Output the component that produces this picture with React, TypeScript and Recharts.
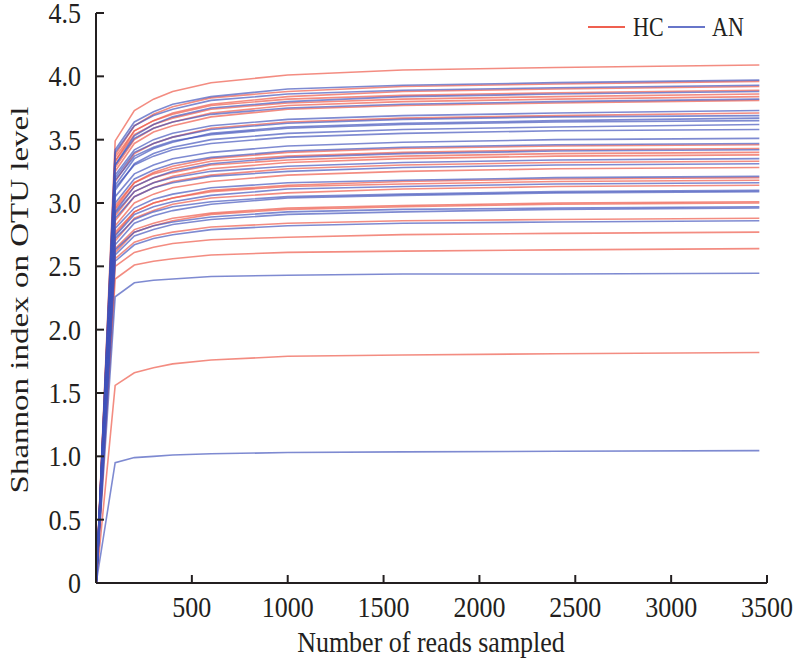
import { LineChart, Line, XAxis, YAxis, Customized } from "recharts";

// sequencing depth at which each curve was sampled
const READS = [1, 100, 200, 300, 400, 600, 1000, 1600, 2400, 3460];

const X_TICKS = [500, 1000, 1500, 2000, 2500, 3000, 3500];
const Y_TICKS = [0, 0.5, 1, 1.5, 2, 2.5, 3, 3.5, 4, 4.5];

// healthy controls
const HC_CURVES = [
  [0, 3.49, 3.73, 3.82, 3.88, 3.95, 4.01, 4.05, 4.07, 4.09],
  [0, 3.38, 3.61, 3.7, 3.76, 3.83, 3.88, 3.92, 3.94, 3.96],
  [0, 3.33, 3.57, 3.65, 3.71, 3.78, 3.84, 3.88, 3.9, 3.92],
  [0, 3.36, 3.57, 3.65, 3.7, 3.77, 3.82, 3.85, 3.87, 3.89],
  [0, 3.33, 3.54, 3.62, 3.67, 3.74, 3.79, 3.82, 3.84, 3.86],
  [0, 3.28, 3.5, 3.59, 3.64, 3.71, 3.77, 3.8, 3.82, 3.84],
  [0, 3.25, 3.47, 3.56, 3.61, 3.68, 3.74, 3.77, 3.79, 3.81],
  [0, 3.17, 3.39, 3.47, 3.52, 3.59, 3.64, 3.67, 3.69, 3.71],
  [0, 2.96, 3.16, 3.24, 3.29, 3.35, 3.4, 3.43, 3.45, 3.46],
  [0, 2.98, 3.16, 3.23, 3.27, 3.33, 3.37, 3.4, 3.42, 3.43],
  [0, 2.95, 3.13, 3.2, 3.24, 3.3, 3.34, 3.37, 3.39, 3.4],
  [0, 2.9, 3.09, 3.16, 3.21, 3.27, 3.32, 3.35, 3.37, 3.38],
  [0, 2.86, 3.05, 3.12, 3.17, 3.22, 3.27, 3.3, 3.32, 3.33],
  [0, 2.82, 3.0, 3.07, 3.12, 3.17, 3.22, 3.25, 3.27, 3.28],
  [0, 2.75, 2.93, 3.0, 3.04, 3.1, 3.14, 3.17, 3.19, 3.2],
  [0, 2.77, 2.93, 3.0, 3.04, 3.09, 3.13, 3.15, 3.17, 3.18],
  [0, 2.7, 2.88, 2.94, 2.99, 3.04, 3.08, 3.11, 3.13, 3.14],
  [0, 2.64, 2.79, 2.84, 2.88, 2.92, 2.96, 2.98, 3.0, 3.01],
  [0, 2.61, 2.77, 2.82, 2.86, 2.91, 2.95, 2.97, 2.99, 3.0],
  [0, 2.56, 2.69, 2.74, 2.77, 2.81, 2.84, 2.86, 2.87, 2.88],
  [0, 2.5, 2.61, 2.65, 2.68, 2.71, 2.73, 2.75, 2.76, 2.77],
  [0, 2.4, 2.51, 2.54, 2.56, 2.59, 2.61, 2.62, 2.63, 2.64],
  [0, 1.56, 1.66, 1.7, 1.73, 1.76, 1.79, 1.8, 1.81, 1.82],
];

// patients
const AN_CURVES = [
  [0, 3.42, 3.64, 3.72, 3.78, 3.84, 3.9, 3.93, 3.95, 3.97],
  [0, 3.4, 3.61, 3.69, 3.74, 3.81, 3.86, 3.89, 3.91, 3.93],
  [0, 3.3, 3.53, 3.62, 3.68, 3.75, 3.8, 3.84, 3.86, 3.88],
  [0, 3.3, 3.51, 3.59, 3.64, 3.7, 3.75, 3.78, 3.8, 3.82],
  [0, 3.22, 3.42, 3.5, 3.55, 3.61, 3.66, 3.69, 3.71, 3.73],
  [0, 3.2, 3.4, 3.47, 3.52, 3.58, 3.63, 3.66, 3.68, 3.69],
  [0, 3.14, 3.35, 3.43, 3.48, 3.55, 3.6, 3.63, 3.65, 3.67],
  [0, 3.18, 3.37, 3.44, 3.49, 3.54, 3.59, 3.62, 3.64, 3.65],
  [0, 3.1, 3.31, 3.39, 3.44, 3.5, 3.55, 3.58, 3.6, 3.62],
  [0, 3.12, 3.3, 3.37, 3.42, 3.47, 3.52, 3.55, 3.57, 3.58],
  [0, 3.05, 3.23, 3.3, 3.35, 3.4, 3.45, 3.48, 3.5, 3.51],
  [0, 3.0, 3.19, 3.26, 3.31, 3.36, 3.41, 3.44, 3.46, 3.47],
  [0, 2.93, 3.13, 3.2, 3.25, 3.31, 3.36, 3.39, 3.41, 3.42],
  [0, 2.92, 3.09, 3.16, 3.2, 3.25, 3.29, 3.32, 3.34, 3.35],
  [0, 2.88, 3.05, 3.12, 3.16, 3.21, 3.25, 3.28, 3.3, 3.31],
  [0, 2.8, 2.96, 3.03, 3.07, 3.12, 3.16, 3.18, 3.2, 3.21],
  [0, 2.74, 2.91, 2.97, 3.01, 3.06, 3.11, 3.13, 3.15, 3.16],
  [0, 2.72, 2.87, 2.93, 2.97, 3.01, 3.05, 3.07, 3.09, 3.1],
  [0, 2.67, 2.84, 2.9, 2.94, 2.99, 3.04, 3.06, 3.08, 3.09],
  [0, 2.63, 2.77, 2.82, 2.85, 2.89, 2.93, 2.95, 2.96, 2.97],
  [0, 2.59, 2.74, 2.79, 2.83, 2.87, 2.91, 2.93, 2.95, 2.96],
  [0, 2.54, 2.67, 2.72, 2.75, 2.79, 2.82, 2.84, 2.85, 2.86],
  [0, 2.26, 2.37, 2.39, 2.4, 2.42, 2.43, 2.44, 2.44, 2.445],
  [0, 0.95, 0.99, 1.0, 1.01, 1.02, 1.03, 1.035, 1.04, 1.045],
];

const RED = "#ef6050";
const BLUE = "#4152bb";
const FONT = "'Liberation Serif', 'Times New Roman', serif";
const INK = "#231f20";
const SY = 1.15; // glyphs in the figure are a bit taller than wide

const rows = READS.map((reads, i) => {
  const row: Record<string, number> = { reads };
  HC_CURVES.forEach((c, k) => (row[`hc${k}`] = c[i]));
  AN_CURVES.forEach((c, k) => (row[`an${k}`] = c[i]));
  return row;
});

const XTick = ({ x, y, payload }: any) => (
  <g transform={`translate(${x},${y})`}>
    <text transform={`scale(1,${SY})`} y={34 / SY} textAnchor="middle" fontSize={26} fontFamily={FONT} fill={INK}>
      {payload.value}
    </text>
  </g>
);

const YTick = ({ x, y, payload }: any) => (
  <g transform={`translate(${x},${y})`}>
    <text transform={`scale(1,${SY})`} x={-15} y={10 / SY} textAnchor="end" fontSize={26} fontFamily={FONT} fill={INK}>
      {payload.value === 0 ? "0" : payload.value.toFixed(1)}
    </text>
  </g>
);

const Titles = () => (
  <g fontFamily={FONT} fill={INK}>
    <text transform={`translate(431,652) scale(1,1.15)`} textAnchor="middle" fontSize={26}>
      Number of reads sampled
    </text>
    <text transform={`translate(28,300) rotate(-90) scale(1.27,1)`} textAnchor="middle" fontSize={26}>
      Shannon index on OTU level
    </text>
    <line x1={588} x2={625} y1={27} y2={27} stroke={RED} strokeWidth={2} />
    <text transform={`translate(633,36) scale(1,1.2)`} fontSize={22}>HC</text>
    <line x1={668} x2={705} y1={27} y2={27} stroke={BLUE} strokeWidth={2} strokeOpacity={0.8} />
    <text transform={`translate(712,36) scale(1,1.2)`} fontSize={22}>AN</text>
  </g>
);

export default function App() {
  return (
    <div style={{ position: "absolute", left: 0, top: 0, background: "#fff" }}>
      <LineChart width={800} height={663} data={rows} margin={{ top: 13, right: 33, bottom: 0, left: 0 }}>
        <XAxis
          dataKey="reads"
          type="number"
          domain={[0, 3500]}
          ticks={X_TICKS}
          height={80}
          stroke={INK}
          strokeWidth={2}
          tickSize={-8}
          tickMargin={8}
          tick={<XTick />}
          interval={0}
        />
        <YAxis
          type="number"
          domain={[0, 4.5]}
          ticks={Y_TICKS}
          width={96}
          stroke={INK}
          strokeWidth={2}
          tickSize={-8}
          tickMargin={8}
          tick={<YTick />}
          interval={0}
        />
        {HC_CURVES.map((_, k) => (
          <Line
            key={`hc${k}`}
            dataKey={`hc${k}`}
            stroke={RED}
            strokeOpacity={0.72}
            strokeWidth={1.6}
            dot={false}
            type="linear"
            isAnimationActive={false}
          />
        ))}
        {AN_CURVES.map((_, k) => (
          <Line
            key={`an${k}`}
            dataKey={`an${k}`}
            stroke={BLUE}
            strokeOpacity={0.68}
            strokeWidth={1.6}
            dot={false}
            type="linear"
            isAnimationActive={false}
          />
        ))}
        <Customized component={Titles} />
      </LineChart>
    </div>
  );
}
